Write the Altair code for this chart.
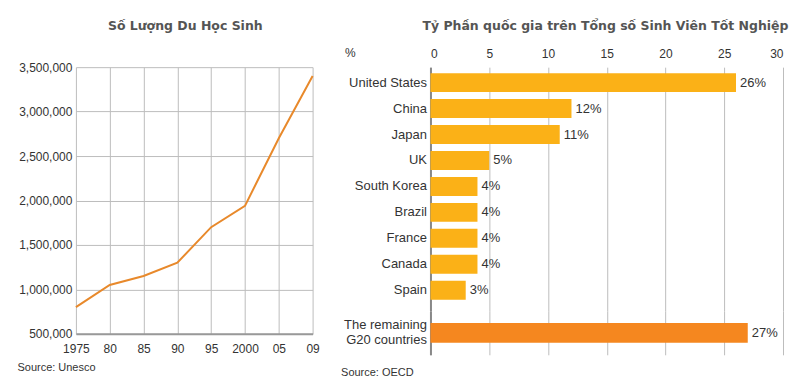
import altair as alt
import pandas as pd

# Left chart data
years = ["1975", "80", "85", "90", "95", "2000", "05", "09"]
students = [800000, 1050000, 1150000, 1300000, 1700000, 1940000, 2700000, 3400000]

# Right chart data
countries = ["United States", "China", "Japan", "UK", "South Korea", "Brazil", "France", "Canada", "Spain"]
shares = [26, 12, 11, 5, 4, 4, 4, 4, 3]
rest_label = ["The remaining|G20 countries"]
rest_share = [27]

line_df = pd.DataFrame({"year": years, "students": students})
top_df = pd.DataFrame({"country": countries, "share": shares})
top_df["label"] = top_df["share"].astype(str) + "%"
bot_df = pd.DataFrame({"country": rest_label, "share": rest_share})
bot_df["label"] = bot_df["share"].astype(str) + "%"

LABEL_FONT = "Liberation Sans"
TITLE_FONT = "DejaVu Sans"
GRID = "#bdbdbd"

left = alt.Chart(line_df).mark_line(color="#E8892B", strokeWidth=2).encode(
    x=alt.X("year:O", sort=years, scale=alt.Scale(type="point", padding=0),
            axis=alt.Axis(title="Source: Unesco", labelAngle=0, grid=True, gridColor=GRID,
                          ticks=False, domain=True, domainColor="#999999", domainWidth=2,
                          labelFont=LABEL_FONT, labelFontSize=12, labelColor="#333",
                          labelPadding=10,
                          titleFont=LABEL_FONT, titleFontSize=11, titleFontWeight="normal",
                          titleColor="#333", titleAnchor="start", titleX=-59, titleY=28,
                          titleAlign="left")),
    y=alt.Y("students:Q", scale=alt.Scale(domain=[500000, 3500000], nice=False),
            axis=alt.Axis(title=None, values=[500000, 1000000, 1500000, 2000000, 2500000, 3000000, 3500000],
                          format=",d", grid=True, gridColor=GRID, ticks=False, domain=False,
                          labelFont=LABEL_FONT, labelFontSize=12, labelColor="#333", labelPadding=4)),
).properties(
    width=237, height=267,
    title=alt.TitleParams("Số Lượng Du Học Sinh", font=TITLE_FONT, fontSize=12.5, fontWeight="bold",
                          color="#555", anchor="middle", offset=29, dx=-9),
)

xscale = alt.Scale(domain=[0, 30], nice=False)

top_bars = alt.Chart(top_df).mark_bar(color="#FBB117").encode(
    x=alt.X("share:Q", scale=xscale,
            axis=alt.Axis(orient="top", values=[0, 5, 10, 15, 20, 25, 30], title="%",
                          grid=True, gridColor=GRID, ticks=False, domain=False,
                          labelFont=LABEL_FONT, labelFontSize=12, labelColor="#333", labelPadding=7,
                          titleFont=LABEL_FONT, titleFontSize=12, titleFontWeight="normal",
                          titleColor="#333", titleAngle=0, titleX=-86, titleY=-8,
                          titleAlign="left", titleBaseline="bottom")),
    y=alt.Y("country:N", sort=countries,
            scale=alt.Scale(paddingInner=0.27, paddingOuter=0.33, align=0.35),
            axis=alt.Axis(title=None, ticks=False, domain=True, domainColor="#888888", domainWidth=2,
                          labelFont=LABEL_FONT, labelFontSize=13, labelColor="#333", labelPadding=4)),
)
top_text = alt.Chart(top_df).mark_text(align="left", dx=4, font=LABEL_FONT, fontSize=13, color="#333").encode(
    x=alt.X("share:Q", scale=xscale),
    y=alt.Y("country:N", sort=countries),
    text="label:N",
)
top = alt.layer(top_bars, top_text).properties(width=353, height=244)

bot_bars = alt.Chart(bot_df).mark_bar(color="#F5871F").encode(
    x=alt.X("share:Q", scale=xscale,
            axis=alt.Axis(orient="bottom", values=[0, 5, 10, 15, 20, 25, 30], title="Source: OECD",
                          grid=True, gridColor=GRID, ticks=False, domain=False, labels=False,
                          titleFont=LABEL_FONT, titleFontSize=11, titleFontWeight="normal",
                          titleColor="#333", titleAnchor="start", titleX=-90, titleY=12,
                          titleAlign="left")),
    y=alt.Y("country:N", scale=alt.Scale(paddingInner=0.27, paddingOuter=0.45),
            axis=alt.Axis(title=None, ticks=False, domain=True, domainColor="#888888", domainWidth=2,
                          labelFont=LABEL_FONT, labelFontSize=13, labelColor="#333", labelPadding=4,
                          labelExpr="split(datum.label, '|')", labelLineHeight=15, labelOffset=-8)),
)
bot_text = alt.Chart(bot_df).mark_text(align="left", dx=4, font=LABEL_FONT, fontSize=13, color="#333").encode(
    x=alt.X("share:Q", scale=xscale),
    y=alt.Y("country:N"),
    text="label:N",
)
bot = alt.layer(bot_bars, bot_text).properties(width=353, height=44)

right = alt.vconcat(top, bot, spacing=0, bounds="flush").properties(
    title=alt.TitleParams("Tỷ Phần quốc gia trên Tổng số Sinh Viên Tốt Nghiệp", font=TITLE_FONT,
                          fontSize=12.5, fontWeight="bold", color="#555", anchor="start", offset=14,
                          dx=82)
)

chart = alt.hconcat(left, right, spacing=21).properties(
    padding={"left": 9, "top": 11, "right": 0, "bottom": 0}
).configure_view(stroke=None)

chart.save("out.html", embed_options={"renderer": "svg", "actions": False})
